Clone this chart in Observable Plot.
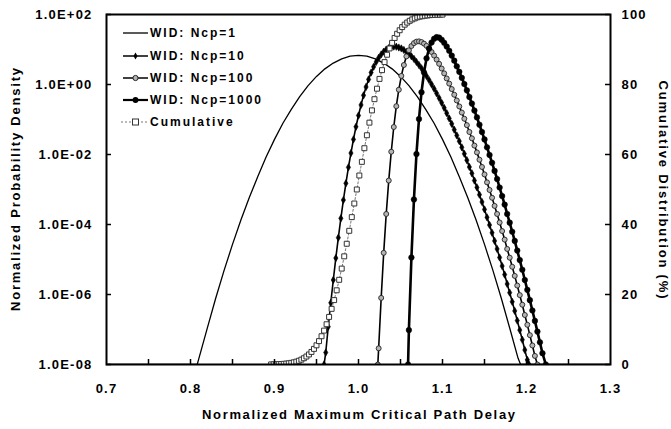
<!DOCTYPE html>
<html><head><meta charset="utf-8">
<script src="https://cdn.jsdelivr.net/npm/d3@7"></script>
<script src="https://cdn.jsdelivr.net/npm/@observablehq/plot@0.6"></script>
<style>
html,body{margin:0;padding:0;background:#fff;}
#wrap{position:relative;width:671px;height:429px;}
#legend{position:absolute;left:0;top:0;pointer-events:none;}
</style></head><body><div id="wrap"></div>
<script>
// ---------- data ----------
const ncp1X = [0.7, 0.808, 0.81, 0.82, 0.83, 0.84, 0.85, 0.86, 0.87, 0.88, 0.89, 0.90, 0.91, 0.92, 0.93, 0.94, 0.95, 0.96, 0.97, 0.98, 0.99, 1.00,
  1.01, 1.02, 1.03, 1.04, 1.05, 1.06, 1.07, 1.08, 1.09, 1.10, 1.11, 1.12, 1.13, 1.14, 1.15, 1.16, 1.17, 1.18, 1.19, 1.193, 1.3];
const ncp1Y = [1e-8, 1e-8, 1.5e-8, 1.1e-7, 7.8e-7, 4.9e-6, 2.7e-5, 1.35e-4, 5.9e-4, 2.3e-3, 8.5e-3, 2.7e-2, 7.8e-2, 0.195, 0.45, 0.93, 1.7, 2.8, 4.1, 5.4, 6.5, 6.8,
  6.5, 5.4, 4.1, 2.8, 1.7, 0.93, 0.45, 0.195, 7.8e-2, 2.7e-2, 8.5e-3, 2.3e-3, 5.9e-4, 1.35e-4, 2.7e-5, 4.9e-6, 7.8e-7, 1.1e-7, 1.5e-8, 1e-8, 1e-8];

const ncp10X = [0.959, 0.961, 0.964, 0.967, 0.970, 0.973, 0.976, 0.979, 0.982, 0.985, 0.988, 0.991, 0.994, 0.997, 1.000, 1.003, 1.006, 1.009, 1.012, 1.015,
  1.018, 1.021, 1.024, 1.027, 1.030, 1.033, 1.036, 1.039, 1.042, 1.045, 1.048, 1.051, 1.054, 1.057, 1.060, 1.063, 1.066, 1.069, 1.072, 1.075,
  1.078, 1.081, 1.084, 1.087, 1.090, 1.093, 1.096, 1.099, 1.102, 1.105, 1.108, 1.111, 1.114, 1.117, 1.120, 1.123, 1.126, 1.129, 1.132, 1.135,
  1.138, 1.141, 1.144, 1.147, 1.150, 1.153, 1.156, 1.159, 1.162, 1.165, 1.168, 1.171, 1.174, 1.177, 1.180, 1.183, 1.186, 1.189, 1.192, 1.195,
  1.198, 1.201, 1.203];
const ncp10Y = [1e-8, 2.2e-8, 1.2e-7, 5.8e-7, 2.6e-6, 1.1e-5, 4.2e-5, 1.5e-4, 5.0e-4, 1.5e-3, 4.3e-3, 1.1e-2, 2.7e-2, 6.2e-2, 0.13, 0.26, 0.49, 0.85, 1.4, 2.2,
  3.2, 4.4, 5.8, 7.2, 8.7, 10.0, 11.0, 11.7, 12.1, 12.0, 11.4, 10.7, 9.7, 8.6, 7.5, 6.4, 5.4, 4.4, 3.6, 2.9,
  2.25, 1.74, 1.34, 1.01, 0.76, 0.56, 0.41, 0.30, 0.215, 0.152, 0.107, 0.075, 0.051, 0.035, 0.024, 0.016, 0.0105, 6.9e-3, 4.4e-3, 2.9e-3,
  1.8e-3, 1.15e-3, 7.1e-4, 4.4e-4, 2.7e-4, 1.6e-4, 9.7e-5, 5.8e-5, 3.4e-5, 2.0e-5, 1.14e-5, 6.5e-6, 3.7e-6, 2.0e-6, 1.13e-6, 6.2e-7, 3.4e-7, 1.8e-7, 9.6e-8, 5.1e-8,
  2.6e-8, 1.36e-8, 1e-8];

const ncp100X = [1.023, 1.024, 1.027, 1.030, 1.033, 1.036, 1.039, 1.042, 1.045, 1.048, 1.051, 1.054, 1.057, 1.060, 1.063, 1.066, 1.069, 1.072, 1.075,
  1.078, 1.081, 1.084, 1.087, 1.090, 1.093, 1.096, 1.099, 1.102, 1.105, 1.108, 1.111, 1.114, 1.117, 1.120, 1.123, 1.126, 1.129, 1.132, 1.135,
  1.138, 1.141, 1.144, 1.147, 1.150, 1.153, 1.156, 1.159, 1.162, 1.165, 1.168, 1.171, 1.174, 1.177, 1.180, 1.183, 1.186, 1.189, 1.192, 1.195,
  1.198, 1.201, 1.204, 1.207, 1.210, 1.213];
const ncp100Y = [1e-8, 2.9e-8, 8.0e-7, 1.55e-5, 2.0e-4, 1.8e-3, 1.2e-2, 6.1e-2, 0.24, 0.71, 1.76, 3.6, 6.35, 9.5, 12.6, 15.2, 16.8, 17.1, 16.3,
  14.7, 12.7, 10.6, 8.5, 6.7, 5.15, 3.9, 2.86, 2.08, 1.49, 1.06, 0.74, 0.51, 0.35, 0.236, 0.158, 0.105, 0.069, 0.044, 0.029,
  0.018, 0.0115, 7.1e-3, 4.4e-3, 2.7e-3, 1.6e-3, 9.7e-4, 5.8e-4, 3.4e-4, 2.0e-4, 1.14e-4, 6.5e-5, 3.7e-5, 2.0e-5, 1.13e-5, 6.2e-6, 3.4e-6, 1.8e-6, 9.6e-7, 5.1e-7,
  2.6e-7, 1.36e-7, 6.9e-8, 3.5e-8, 1.76e-8, 1e-8];

const ncp1000X = [1.059, 1.060, 1.063, 1.066, 1.069, 1.072, 1.075, 1.078, 1.081, 1.084, 1.087, 1.090, 1.093, 1.096, 1.099, 1.102, 1.105, 1.108, 1.111,
  1.114, 1.117, 1.120, 1.123, 1.126, 1.129, 1.132, 1.135, 1.138, 1.141, 1.144, 1.147, 1.150, 1.153, 1.156, 1.159, 1.162, 1.165, 1.168, 1.171,
  1.174, 1.177, 1.180, 1.183, 1.186, 1.189, 1.192, 1.195, 1.198, 1.201, 1.204, 1.207, 1.210, 1.213, 1.216, 1.219, 1.223];
const ncp1000Y = [1e-8, 9.6e-8, 1.14e-5, 5.2e-4, 1.03e-2, 0.103, 0.60, 2.2, 5.6, 10.6, 15.9, 20.3, 22.5, 21.8, 19.0, 15.6, 12.2, 9.2, 6.7,
  4.8, 3.3, 2.3, 1.55, 1.03, 0.68, 0.44, 0.285, 0.18, 0.115, 0.071, 0.044, 0.027, 0.016, 9.7e-3, 5.8e-3, 3.4e-3, 2.0e-3, 1.14e-3, 6.5e-4,
  3.7e-4, 2.0e-4, 1.13e-4, 6.2e-5, 3.4e-5, 1.8e-5, 9.6e-6, 5.1e-6, 2.6e-6, 1.36e-6, 6.9e-7, 3.5e-7, 1.76e-7, 8.7e-8, 4.3e-8, 2.1e-8, 1e-8];

// cumulative distribution (%), right axis
const cumX = [0.896, 0.899, 0.902, 0.905, 0.908, 0.911, 0.914, 0.917, 0.920, 0.923, 0.926, 0.929, 0.932, 0.935, 0.938, 0.941, 0.944, 0.947, 0.950, 0.953,
  0.956, 0.959, 0.962, 0.965, 0.968, 0.971, 0.974, 0.977, 0.980, 0.983, 0.986, 0.989, 0.992, 0.995, 0.998, 1.001, 1.004, 1.007, 1.010, 1.013,
  1.016, 1.019, 1.022, 1.025, 1.028, 1.031, 1.034, 1.037, 1.040, 1.043, 1.046, 1.049, 1.052, 1.055, 1.058, 1.061, 1.064, 1.067, 1.070, 1.073,
  1.076, 1.079, 1.082, 1.085, 1.088, 1.091, 1.094, 1.097, 1.100];
const cumY = [0.03, 0.05, 0.07, 0.10, 0.14, 0.19, 0.26, 0.35, 0.47, 0.62, 0.82, 1.07, 1.39, 1.79, 2.28, 2.87, 3.59, 4.46, 5.48, 6.68,
  8.08, 9.68, 11.5, 13.6, 15.9, 18.4, 21.2, 24.2, 27.4, 30.9, 34.5, 38.2, 42.1, 46.0, 50.0, 54.0, 57.9, 61.8, 65.5, 69.1,
  72.6, 75.8, 78.8, 81.6, 84.1, 86.4, 88.5, 90.3, 91.9, 93.3, 94.5, 95.5, 96.4, 97.1, 97.7, 98.2, 98.6, 98.9, 99.2, 99.4,
  99.5, 99.65, 99.74, 99.81, 99.87, 99.9, 99.93, 99.95, 99.97];
const cumStart = {x: 0.7, c: 0};
const cumEnd = {x: 1.3, c: 100};

// axis ticks and labels
const xTicks = [0.7, 0.8, 0.9, 1.0, 1.1, 1.2, 1.3];
const xTickLabels = ["0.7", "0.8", "0.9", "1.0", "1.1", "1.2", "1.3"];
const xTickMarks = [0.75, 0.8, 0.85, 0.9, 0.95, 1.0, 1.05, 1.1, 1.15, 1.2, 1.25];
const yTicks = [1e-8, 1e-6, 1e-4, 1e-2, 1, 1e2];
const yTickLabels = ["1.0E-08", "1.0E-06", "1.0E-04", "1.0E-02", "1.0E+00", "1.0E+02"];
const cumTicks = [0, 20, 40, 60, 80, 100];
const legendLabels = ["WID: Ncp=1", "WID: Ncp=10", "WID: Ncp=100", "WID: Ncp=1000", "Cumulative"];
const xTitle = "Normalized Maximum Critical Path Delay";
const yTitle = "Normalized Probability Density";
const y2Title = "Cumulative Distribution (%)";

// ---------- build ----------
const FONT = '"Liberation Sans", Arial, Helvetica, sans-serif';
const rows = (xs, ys) => xs.slice(0, Math.min(xs.length, ys.length)).map((x, i) => ({x, y: ys[i]}));
// the right axis (0-100 %) spans the same height as the ten decades on the left
const cumPos = c => Math.pow(10, -8 + c / 10);
const cumRows = rows(cumX, cumY).map(d => ({x: d.x, y: cumPos(d.y)}));
const cumLine = [{x: cumStart.x, y: cumPos(cumStart.c)}, ...cumRows, {x: cumEnd.x, y: cumPos(cumEnd.c)}];

const d1 = rows(ncp1X, ncp1Y), d10 = rows(ncp10X, ncp10Y), d100 = rows(ncp100X, ncp100Y), d1000 = rows(ncp1000X, ncp1000Y);
const yLab = new Map(yTicks.map((t, i) => [t, yTickLabels[i]]));
const xLab = new Map(xTicks.map((t, i) => [t, xTickLabels[i]]));

const chart = Plot.plot({
  width: 671, height: 429,
  marginLeft: 106, marginRight: 61, marginTop: 14, marginBottom: 65,
  style: {fontFamily: FONT, fontWeight: "bold", fontSize: "13px", background: "white", color: "black", letterSpacing: "1.2px"},
  x: {domain: [0.7, 1.3]},
  y: {type: "log", domain: [1e-8, 1e2]},
  marks: [
    // series
    Plot.line(d1, {x: "x", y: "y", stroke: "black", strokeWidth: 1.3, clip: true}),
    Plot.line(d10, {x: "x", y: "y", stroke: "black", strokeWidth: 1.6, clip: true}),
    Plot.dot(d10, {x: "x", y: "y", symbol: "diamond", r: 2.2, fill: "black", stroke: "black", strokeWidth: 0.6, clip: true}),
    Plot.line(d100, {x: "x", y: "y", stroke: "black", strokeWidth: 1.6, clip: true}),
    Plot.dot(d100, {x: "x", y: "y", r: 2.5, fill: "#b4b4b4", stroke: "#222", strokeWidth: 0.9, clip: true}),
    Plot.line(d1000, {x: "x", y: "y", stroke: "black", strokeWidth: 2.6, clip: true}),
    Plot.dot(d1000, {x: "x", y: "y", r: 2.8, fill: "black", stroke: "black", strokeWidth: 0.5, clip: true}),
    Plot.line(cumLine, {x: "x", y: "y", stroke: "#777", strokeWidth: 1, strokeDasharray: "2,2", clip: true}),
    Plot.dot(cumRows, {x: "x", y: "y", symbol: "square", r: 2.8, fill: "white", stroke: "#333", strokeWidth: 1, clip: true}),
    // frame and inward tick marks
    Plot.frame({stroke: "black", strokeWidth: 2}),
    Plot.ruleX(xTickMarks, {y1: 1e-8, y2: Math.pow(10, -8 + 5 / 35), stroke: "black", strokeWidth: 1.5}),
    Plot.ruleY(yTicks, {x1: 0.7, x2: 0.7 + 5 / 840, stroke: "black", strokeWidth: 1.5}),
    Plot.ruleY(cumTicks.map(cumPos), {x1: 1.3 - 5 / 840, x2: 1.3, stroke: "black", strokeWidth: 1.5}),
    // axes (text only)
    Plot.axisX({ticks: xTicks, tickFormat: d => xLab.get(d), tickSize: 0, tickPadding: 19, label: null, fontSize: 13}),
    Plot.axisY({anchor: "left", ticks: yTicks, tickFormat: d => yLab.get(d), tickSize: 0, tickPadding: 14, label: null, fontSize: 13}),
    Plot.axisY({anchor: "right", ticks: cumTicks.map(cumPos), tickFormat: d => String(Math.round((Math.log10(d) + 8) * 10)), tickSize: 0, tickPadding: 11, label: null, fontSize: 13}),
    // axis titles
    Plot.text([xTitle], {frameAnchor: "bottom", dy: 50, textAnchor: "middle", lineAnchor: "middle", fontSize: 13, fontWeight: "bold"}),
    Plot.text([yTitle], {frameAnchor: "left", dx: -91, rotate: -90, textAnchor: "middle", lineAnchor: "middle", fontSize: 13, fontWeight: "bold"}),
    Plot.text([y2Title], {frameAnchor: "right", dx: 53, rotate: 90, textAnchor: "middle", lineAnchor: "middle", fontSize: 13, fontWeight: "bold"})
  ]
});
const wrap = document.getElementById("wrap");
wrap.appendChild(chart);

// fit the axis titles to the widths they have in the reference
const titleLen = new Map([[xTitle, 313], [yTitle, 243], [y2Title, 218]]);
chart.querySelectorAll("text").forEach(t => {
  const len = titleLen.get(t.textContent);
  if (len) { t.setAttribute("textLength", len); t.setAttribute("lengthAdjust", "spacing"); t.style.letterSpacing = "0px"; }
});

// ---------- legend (inside the plot, top-left) ----------
const lg = d3.create("svg").attr("id", "legend").attr("width", 671).attr("height", 429)
  .style("font-family", FONT).style("font-weight", "bold").style("font-size", "12px").style("letter-spacing", "2px");
const rowY = [33, 56, 78, 100, 122];
const x0 = 123, x1 = 148, xm = 135.5;
legendLabels.forEach((lab, i) => {
  const y = rowY[i];
  const g = lg.append("g");
  if (i === 4) {
    g.append("line").attr("x1", x0 - 2).attr("x2", x1).attr("y1", y).attr("y2", y).attr("stroke", "#777").attr("stroke-dasharray", "2,2");
    g.append("rect").attr("x", xm - 3).attr("y", y - 3).attr("width", 6).attr("height", 6).attr("fill", "white").attr("stroke", "#333");
  } else {
    g.append("line").attr("x1", x0).attr("x2", x1).attr("y1", y).attr("y2", y).attr("stroke", "black").attr("stroke-width", i === 3 ? 2.2 : i === 0 ? 1.3 : 1.5);
    if (i === 1) g.append("path").attr("d", d3.symbol(d3.symbolDiamond, 14)()).attr("transform", `translate(${xm},${y})`).attr("fill", "black");
    if (i === 2) g.append("circle").attr("cx", xm).attr("cy", y).attr("r", 2.6).attr("fill", "#b4b4b4").attr("stroke", "#222");
    if (i === 3) g.append("circle").attr("cx", xm).attr("cy", y).attr("r", 2.9).attr("fill", "black");
  }
  g.append("text").attr("x", 150).attr("y", y).attr("dy", "0.35em").attr("fill", "black").text(lab);
});
wrap.appendChild(lg.node());
</script></body></html>
